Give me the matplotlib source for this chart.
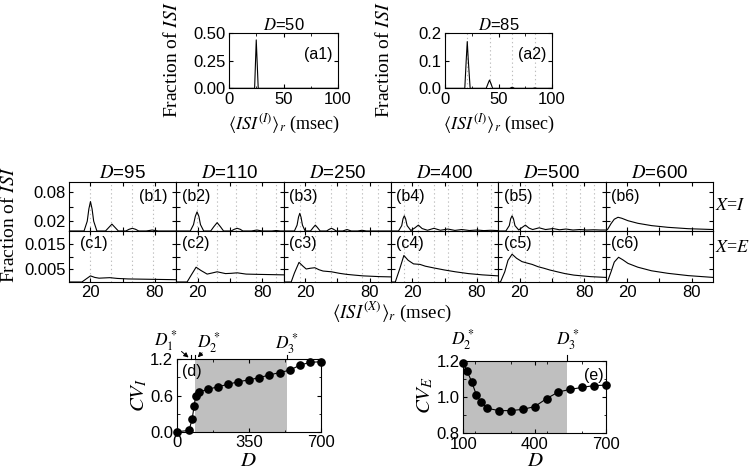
import matplotlib
matplotlib.use('Agg')
import matplotlib.pyplot as plt

plt.rcParams['font.family'] = ['Liberation Sans', 'DejaVu Sans']
plt.rcParams['mathtext.fontset'] = 'stix'
plt.rcParams['xtick.direction'] = 'in'
plt.rcParams['ytick.direction'] = 'in'
plt.rcParams['xtick.top'] = True
plt.rcParams['ytick.right'] = True
plt.rcParams['font.size'] = 12
plt.rcParams['axes.linewidth'] = 0.8
plt.rcParams['xtick.major.size'] = 3
plt.rcParams['ytick.major.size'] = 3
plt.rcParams['xtick.minor.size'] = 1.8
plt.rcParams['ytick.minor.size'] = 1.8
plt.rcParams['xtick.major.pad'] = 2.5
plt.rcParams['ytick.major.pad'] = 2.5

SERIF = ['Liberation Serif', 'DejaVu Serif']

# ---- top row: ISI distributions of I-population ----
a1_x = [0, 23.5, 25, 26.8, 100]
a1_y = [0, 0, 0.44, 0, 0]
a2_x = [0, 18.5, 19.8, 20.8, 21.8, 23.5, 38.5, 40.3, 41.6, 42.9, 44.5, 60.5, 62.8, 65, 82, 84, 86, 100]
a2_y = [0, 0, 0.10, 0.17, 0.10, 0, 0, 0.018, 0.030, 0.018, 0, 0, 0.004, 0, 0, 0.0015, 0, 0]
a2_grid = [21, 42, 63, 84]

# ---- middle: b (X=I) and c (X=E) rows ----
D_mid = [95, 110, 250, 400, 500, 600]

b_x = [
    [0, 14, 17, 18.5, 20, 21.5, 23, 26, 34, 37, 40, 43, 46, 53, 56, 59, 62, 65, 72, 77.5, 83, 100],
    [0, 13, 16, 17.7, 19.3, 21, 22.5, 25.5, 32, 35, 38, 41, 44, 51, 54, 56.7, 59.5, 62, 70, 75, 80, 89, 93, 97, 100],
    [0, 10, 12.5, 13.8, 15, 16.2, 17.5, 20, 25, 27.5, 29.5, 31.5, 34, 40, 42.5, 44.5, 46.5, 49, 55, 59, 63, 69, 73, 77, 100],
    [0, 7, 10, 11.2, 12.4, 13.6, 15, 18.5, 22, 25.5, 29, 34, 40, 46, 53, 59.5, 66, 73, 80, 86.5, 93, 100],
    [0, 7, 10.2, 11.5, 12.8, 14.1, 15.5, 19, 22, 25.2, 28.5, 32, 38, 44, 51, 57, 63, 69.5, 76, 82.5, 89, 95, 100],
    [0, 2, 5, 8, 11.5, 15, 20.8, 30, 42.7, 58, 77, 100],
]
b_y = [
    [0, 0, 0.02, 0.045, 0.060, 0.045, 0.02, 0, 0, 0.007, 0.014, 0.007, 0, 0, 0.0035, 0.0055, 0.0035, 0, 0, 0.002, 0, 0],
    [0, 0, 0.013, 0.030, 0.039, 0.030, 0.013, 0, 0, 0.009, 0.017, 0.009, 0, 0, 0.0035, 0.0055, 0.0035, 0, 0, 0.002, 0, 0, 0.001, 0, 0],
    [0, 0, 0.012, 0.028, 0.036, 0.028, 0.012, 0, 0, 0.007, 0.012, 0.007, 0, 0, 0.0035, 0.0055, 0.0035, 0, 0, 0.003, 0, 0, 0.0015, 0, 0],
    [0, 0, 0.011, 0.025, 0.031, 0.025, 0.011, 0.001, 0.006, 0.012, 0.005, 0.0015, 0.0055, 0.0015, 0.004, 0.0012, 0.003, 0.001, 0.002, 0.0008, 0.0015, 0.0008],
    [0, 0, 0.011, 0.025, 0.031, 0.025, 0.011, 0.002, 0.007, 0.012, 0.006, 0.003, 0.0065, 0.003, 0.005, 0.0025, 0.004, 0.002, 0.003, 0.002, 0.0025, 0.002, 0.002],
    [0, 0.004, 0.015, 0.024, 0.028, 0.026, 0.021, 0.0157, 0.011, 0.0075, 0.0047, 0.003],
]
c_x = [
    [0, 12, 16, 20, 24, 28, 33, 38, 45, 55, 70, 85, 100],
    [0, 10, 14, 18.4, 23, 28.7, 33, 38, 45.8, 51, 56.7, 65, 75, 88, 100],
    [0, 7, 10, 14.3, 18, 21, 25, 29, 33, 36.7, 44.6, 52, 58.6, 66, 74, 89.7, 100],
    [0, 4, 8, 12, 16, 21, 27, 32, 40, 50, 60, 72, 85, 100],
    [0, 2, 6, 9, 12.8, 17, 22, 27, 31.5, 37, 42.4, 48, 54.9, 62, 70.4, 78, 86, 100],
    [0, 2, 5, 8, 12, 16, 20.8, 30, 42.7, 58, 77, 100],
]
c_y = [
    [0, 0, 0.0012, 0.0024, 0.0018, 0.0015, 0.0016, 0.0017, 0.0014, 0.0012, 0.0011, 0.001, 0.0009],
    [0, 0, 0.0028, 0.0058, 0.0045, 0.0031, 0.0035, 0.004, 0.0033, 0.0034, 0.0036, 0.0031, 0.003, 0.0029, 0.0028],
    [0, 0, 0.0035, 0.0077, 0.0062, 0.0051, 0.0054, 0.0056, 0.0048, 0.0043, 0.004, 0.0034, 0.003, 0.0027, 0.0024, 0.0021, 0.002],
    [0, 0, 0.005, 0.0104, 0.0085, 0.0071, 0.0069, 0.0062, 0.0055, 0.0047, 0.004, 0.0033, 0.0028, 0.0024],
    [0, 0, 0.004, 0.0085, 0.0109, 0.0093, 0.008, 0.0074, 0.0069, 0.006, 0.0054, 0.0047, 0.004, 0.0033, 0.0027, 0.0024, 0.0021, 0.0018],
    [0, 0.0005, 0.004, 0.0078, 0.0097, 0.0087, 0.0073, 0.0058, 0.0044, 0.0034, 0.0025, 0.0018],
]
mid_grid = [
    [20, 39.5, 59, 78.5],
    [19, 37.6, 56, 74.5, 93],
    [14.8, 29.3, 44, 58.5, 73.2, 87.7],
    [12, 25.2, 39.7, 52.9, 66.2, 79.7, 93],
    [12.6, 25, 37.9, 51, 63.4, 75.7, 88.9],
    [],
]

# ---- bottom: CV vs D ----
d_D = [0, 60, 75, 85, 92, 110, 150, 200, 250, 300, 350, 400, 450, 500, 550, 600, 650, 700]
d_cv = [0.0, 0.02, 0.21, 0.43, 0.60, 0.66, 0.70, 0.745, 0.785, 0.83, 0.857, 0.895, 0.94, 0.98, 1.02, 1.105, 1.15, 1.16]
e_D = [100, 115, 135, 155, 175, 200, 250, 300, 350, 400, 450, 500, 550, 600, 650, 700]
e_cv = [1.186, 1.145, 1.085, 1.011, 0.971, 0.938, 0.925, 0.925, 0.932, 0.947, 0.991, 1.028, 1.042, 1.053, 1.063, 1.065]
D1s, D2s, D3s = 68, 88, 538

W, H = 749, 471


def box(x0, y0, x1, y1):
    return [x0 / W, 1 - y1 / H, (x1 - x0) / W, (y1 - y0) / H]


def ftext(x, y, s, **kw):
    fig.text(x / W, 1 - y / H, s, **kw)


fig = plt.figure(figsize=(W / 100, H / 100), dpi=100)

GRID = dict(color='#bdbdbd', ls=(0, (1.2, 2.5)), lw=0.8, zorder=0)
PL = 11.5  # panel label size

# top panels
ax = fig.add_axes(box(229, 33.3, 338, 88.3))
ax.plot(a1_x, a1_y, color='k', lw=0.8)
ax.set_xlim(0, 100)
ax.set_ylim(0, 0.5)
ax.set_xticks([0, 50, 100])
ax.set_yticks([0, 0.25, 0.5])
ax.set_yticklabels(['0.00', '0.25', '0.50'])
ax.xaxis.set_minor_locator(plt.MultipleLocator(25))
ax.set_title('$D$=50', fontsize=12, pad=2.5)
ax.text(0.95, 0.76, '(a1)', transform=ax.transAxes, ha='right', va='top', fontsize=PL)

ax = fig.add_axes(box(445, 33.3, 552, 88.3))
for g in a2_grid:
    ax.axvline(g, **GRID)
ax.plot(a2_x, a2_y, color='k', lw=0.8)
ax.set_xlim(0, 100)
ax.set_ylim(0, 0.2)
ax.set_xticks([0, 50, 100])
ax.set_yticks([0, 0.1, 0.2])
ax.set_yticklabels(['0.0', '0.1', '0.2'])
ax.xaxis.set_minor_locator(plt.MultipleLocator(25))
ax.set_title('$D$=85', fontsize=12, pad=2.5)
ax.text(0.95, 0.76, '(a2)', transform=ax.transAxes, ha='right', va='top', fontsize=PL)

for xc in (172, 384):
    ftext(xc, 60, 'Fraction of $ISI$', rotation=90, ha='center', va='center',
          fontsize=14, family=SERIF)
for xc in (283.5, 498.5):
    ftext(xc, 124, r'$\langle ISI^{(I)}\rangle_r$ (msec)', ha='center', va='center',
          fontsize=13, family=SERIF)

# middle panels
pw = (713 - 69) / 6
for i in range(6):
    x0 = 69 + i * pw
    axb = fig.add_axes(box(x0, 182, x0 + pw, 231))
    axc = fig.add_axes(box(x0, 231, x0 + pw, 282))
    for a, xs, ys, yl, yt, ytl in (
            (axb, b_x[i], b_y[i], 0.1, [0.02, 0.05, 0.08], ['0.02', '', '0.08']),
            (axc, c_x[i], c_y[i], 0.02, [0.005, 0.01, 0.015], ['0.005', '', '0.015'])):
        for g in mid_grid[i]:
            a.axvline(g, **GRID)
        a.plot(xs, ys, color='k', lw=0.8)
        a.set_xlim(0, 100)
        a.set_ylim(0, yl)
        a.set_xticks([20, 50, 80])
        a.set_yticks(yt)
        if i == 0:
            a.set_yticklabels(ytl)
        else:
            a.set_yticklabels([])
    axb.set_xticklabels([])
    axc.set_xticklabels(['20', '', '80'])
    axb.set_title('$D$=%d' % D_mid[i], fontsize=13.5, pad=3)
    if i == 0:
        axb.text(0.92, 0.86, '(b1)', transform=axb.transAxes, ha='right', va='top', fontsize=PL)
        axc.text(0.10, 0.9, '(c1)', transform=axc.transAxes, ha='left', va='top', fontsize=PL)
    else:
        axb.text(0.05, 0.86, '(b%d)' % (i + 1), transform=axb.transAxes, ha='left', va='top', fontsize=PL)
        axc.text(0.05, 0.9, '(c%d)' % (i + 1), transform=axc.transAxes, ha='left', va='top', fontsize=PL)

ftext(715, 205, '$X$=$I$', ha='left', va='center', fontsize=13, family=SERIF)
ftext(715, 248, '$X$=$E$', ha='left', va='center', fontsize=13, family=SERIF)
ftext(9, 225, 'Fraction of $ISI$', rotation=90, ha='center', va='center',
      fontsize=14, family=SERIF)
ftext(392, 312, r'$\langle ISI^{(X)}\rangle_r$ (msec)', ha='center', va='center',
      fontsize=13.5, family=SERIF)

# bottom panels
SHADE = '#bfbfbf'
ax = fig.add_axes(box(176.7, 359.3, 320.7, 431.7))
ax.axvspan(D2s, D3s, color=SHADE, lw=0, zorder=0)
ax.plot(d_D, d_cv, color='k', lw=0.8, marker='o', ms=5.2, clip_on=False, zorder=3)
ax.set_xlim(0, 700)
ax.set_ylim(0, 1.2)
ax.set_xticks([0, 350, 700])
ax.set_yticks([0, 0.6, 1.2])
ax.set_yticklabels(['0.0', '0.6', '1.2'])
ax.xaxis.set_minor_locator(plt.MultipleLocator(175))
ax.yaxis.set_minor_locator(plt.MultipleLocator(0.3))
ax.text(0.035, 0.93, '(d)', transform=ax.transAxes, ha='left', va='top', fontsize=PL)
for dv in (D1s, D2s, D3s):
    ax.plot([dv, dv], [1.2, 1.27], color='k', lw=0.8, clip_on=False)
ax.annotate('', xy=(D1s, 1.2), xytext=(D1s - 55, 1.36),
            arrowprops=dict(arrowstyle='-|>', color='k', lw=0.7, mutation_scale=7))
ax.annotate('', xy=(D2s + 5, 1.2), xytext=(D2s + 45, 1.34),
            arrowprops=dict(arrowstyle='-|>', color='k', lw=0.7, mutation_scale=7))
ftext(166, 341, '$D^*_1$', ha='center', va='center', fontsize=12.5)
ftext(209, 343, '$D^*_2$', ha='center', va='center', fontsize=12.5)
ftext(287, 344, '$D^*_3$', ha='center', va='center', fontsize=12.5)
ftext(139, 395, '$CV_I$', rotation=90, ha='center', va='center', fontsize=15)
ftext(248.5, 461, '$D$', ha='center', va='center', fontsize=15)

ax = fig.add_axes(box(463.3, 360.7, 606, 433.3))
ax.axvspan(100, D3s, color=SHADE, lw=0, zorder=0)
ax.plot(e_D, e_cv, color='k', lw=0.8, marker='o', ms=5.2, clip_on=False, zorder=3)
ax.set_xlim(100, 700)
ax.set_ylim(0.8, 1.2)
ax.set_xticks([100, 400, 700])
ax.set_yticks([0.8, 1.0, 1.2])
ax.set_yticklabels(['0.8', '1.0', '1.2'])
ax.xaxis.set_minor_locator(plt.MultipleLocator(150))
ax.yaxis.set_minor_locator(plt.MultipleLocator(0.1))
ax.text(0.98, 0.9, '(e)', transform=ax.transAxes, ha='right', va='top', fontsize=PL)
ax.plot([D3s, D3s], [1.2, 1.23], color='k', lw=0.8, clip_on=False)
ftext(463, 340, '$D^*_2$', ha='center', va='center', fontsize=12.5)
ftext(568, 340, '$D^*_3$', ha='center', va='center', fontsize=12.5)
ftext(425, 395, '$CV_E$', rotation=90, ha='center', va='center', fontsize=15)
ftext(535, 461, '$D$', ha='center', va='center', fontsize=15)

fig.savefig('out.png', dpi=100)
